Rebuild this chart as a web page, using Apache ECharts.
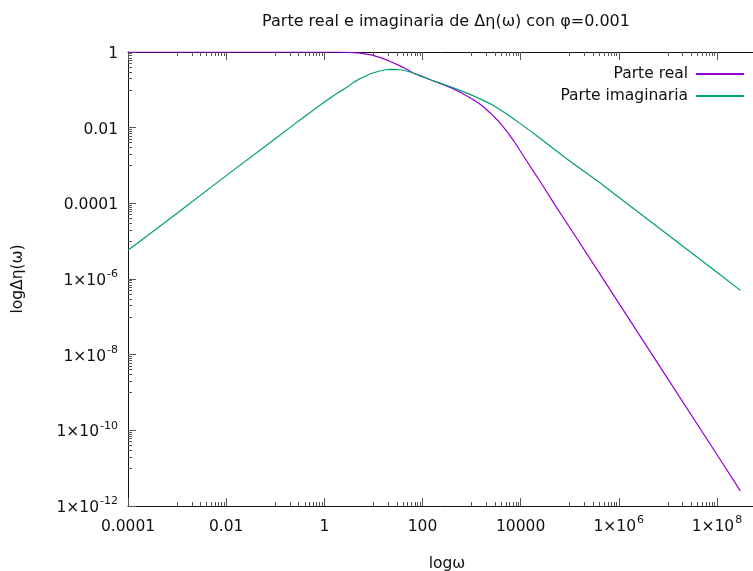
<!DOCTYPE html>
<html>
<head>
<meta charset="utf-8">
<script src="https://cdn.jsdelivr.net/npm/echarts@6/dist/echarts.min.js"></script>
<style>html,body{margin:0;padding:0;background:#fff}#c{width:753px;height:571px}</style>
</head>
<body>
<div id="c"></div>
<script>
// ---- data ----
const titleText = 'Parte real e imaginaria de Δη(ω) con φ=0.001';
const seriesNames = ['Parte real', 'Parte imaginaria'];
const omega = [1e-4, 1e-3, 1e-2, 0.1, 0.3, 1, 2, 3, 4, 5.4, 9, 14, 18, 22, 35, 50, 66, 90, 150, 235, 400, 600, 1100, 1600, 2500, 3550, 5400, 7400, 1e4, 1.6e4, 2.6e4, 5e4, 1e5, 4e5, 1e6, 1e7, 1e8, 3e8];
const realPart = [1, 1, 1, 1, 1, 1, 1, 0.98, 0.955, 0.93, 0.84, 0.71, 0.63, 0.56, 0.43, 0.34, 0.275, 0.237, 0.182, 0.146, 0.111, 0.085, 0.055, 0.039, 0.0234, 0.0148, 7.6e-3, 4.3e-3, 2.35e-3, 9.1e-4, 3.5e-4, 9.1e-5, 2.3e-5, 1.45e-6, 2.3e-7, 2.3e-9, 2.3e-11, 2.5e-12];
const imagPart = [5.75e-6, 5.5e-5, 5.4e-4, 5.1e-3, 0.0151, 0.048, 0.087, 0.12, 0.16, 0.20, 0.27, 0.32, 0.34, 0.347, 0.34, 0.31, 0.275, 0.234, 0.182, 0.148, 0.117, 0.095, 0.069, 0.055, 0.042, 0.0316, 0.0224, 0.0166, 0.0126, 8.1e-3, 5.0e-3, 2.6e-3, 1.32e-3, 3.6e-4, 1.45e-4, 1.48e-5, 1.5e-6, 5.0e-7];
const xTickValues = [1e-4, 1e-2, 1, 100, 1e4, 1e6, 1e8];
const xTickLabels = ['0.0001', '0.01', '1', '100', '10000', '1×10^6', '1×10^8'];
const yTickValues = [1e-12, 1e-10, 1e-8, 1e-6, 1e-4, 1e-2, 1];
const yTickLabels = ['1×10^-12', '1×10^-10', '1×10^-8', '1×10^-6', '0.0001', '0.01', '1'];
const xMinorDecades = [1e-3, 1e-1, 10, 1000, 1e5, 1e7];
const yMinorDecades = [1e-11, 1e-9, 1e-7, 1e-5, 1e-3, 1e-1];
const xLabelName = 'logω';
const yLabelName = 'logΔη(ω)';

// ---- build ----
function minorList(decades) {
  const out = [];
  decades.forEach(d => { for (let k = 1; k <= 9; k++) out.push(d * k); });
  return out;
}
const xMinor = minorList(xMinorDecades);
const yMinor = minorList(yMinorDecades);

function makeFormatter(vals, labels) {
  return function (v) {
    let idx = -1;
    for (let i = 0; i < vals.length; i++) {
      if (Math.abs(Math.log10(v) - Math.log10(vals[i])) < 1e-6) { idx = i; break; }
    }
    if (idx < 0) return '';
    const lab = labels[idx];
    if (lab.indexOf('^') >= 0) {
      const p = lab.split('^');
      return '{b|' + p[0] + '}{s|' + p[1] + '}';
    }
    return '{b|' + lab + '}';
  };
}
const FONT = 'DejaVu Sans';
const FS = 15.5;
const rich = {
  b: { fontSize: FS, fontFamily: FONT, color: '#111', lineHeight: 20, verticalAlign: 'bottom' },
  s: { fontSize: 11, fontFamily: FONT, color: '#111', lineHeight: 20, verticalAlign: 'top', padding: [0, 0, 0, 1] }
};
const axisLineStyle = { color: '#111', width: 1 };
const tickStyle = { color: '#555', width: 1 };

const X_MIN = 1e-4, X_MAX = 1e9, Y_MIN = 1e-12, Y_MAX = 1;

function xAxisDef(pos, major, withLabel, withLine, withName) {
  return {
    type: 'log', logBase: 10, min: X_MIN, max: X_MAX, position: pos,
    name: withName ? xLabelName : '', nameLocation: 'middle', nameGap: 50,
    nameTextStyle: { fontFamily: FONT, fontSize: FS, color: '#111' },
    axisLine: { show: withLine, lineStyle: axisLineStyle },
    axisTick: { show: true, inside: true, length: major ? 8 : 4, lineStyle: tickStyle, customValues: major ? xTickValues : xMinor },
    axisLabel: withLabel ? { show: true, margin: 9, customValues: xTickValues, formatter: makeFormatter(xTickValues, xTickLabels), rich: rich } : { show: false },
    splitLine: { show: false }, minorTick: { show: false }
  };
}
function yAxisDef(pos, major, withLabel, withLine, withName) {
  return {
    type: 'log', logBase: 10, min: Y_MIN, max: Y_MAX, position: pos,
    name: withName ? yLabelName : '', nameLocation: 'middle', nameGap: 102, nameRotate: 90,
    nameTextStyle: { fontFamily: FONT, fontSize: FS, color: '#111' },
    axisLine: { show: withLine, lineStyle: axisLineStyle },
    axisTick: { show: true, inside: true, length: major ? 8 : 4, lineStyle: tickStyle, customValues: major ? yTickValues : yMinor },
    axisLabel: withLabel ? { show: true, margin: 10, customValues: yTickValues, formatter: makeFormatter(yTickValues, yTickLabels), rich: rich } : { show: false },
    splitLine: { show: false }, minorTick: { show: false }
  };
}

const chart = echarts.init(document.getElementById('c'), null, { renderer: 'canvas' });
const colors = ['#9400d3', '#009e73'];
const legendText = { fontFamily: FONT, fontSize: FS, color: '#111', padding: [0, 3, 0, 0] };
chart.setOption({
  animation: false,
  backgroundColor: '#fff',
  title: {
    text: titleText, left: 441, top: 9, textAlign: 'center',
    textStyle: { fontFamily: FONT, fontSize: 16, fontWeight: 'normal', color: '#111' }
  },
  legend: [
    { data: [seriesNames[0]], orient: 'vertical', right: 9, top: 66, padding: 0, align: 'right', itemWidth: 48, itemHeight: 2, icon: 'rect', textStyle: legendText },
    { data: [seriesNames[1]], orient: 'vertical', right: 9, top: 88, padding: 0, align: 'right', itemWidth: 48, itemHeight: 2, icon: 'rect', textStyle: legendText }
  ],
  grid: { left: 128, right: -13, top: 52, bottom: 65, containLabel: false, outerBoundsMode: 'none' },
  xAxis: [
    xAxisDef('bottom', true, true, true, true),
    xAxisDef('bottom', false, false, false, false),
    xAxisDef('top', true, false, true, false),
    xAxisDef('top', false, false, false, false)
  ],
  yAxis: [
    yAxisDef('left', true, true, true, true),
    yAxisDef('left', false, false, false, false),
    yAxisDef('right', true, false, true, false),
    yAxisDef('right', false, false, false, false)
  ],
  series: [
    { name: seriesNames[0], type: 'line', xAxisIndex: 0, yAxisIndex: 0, showSymbol: false, symbol: 'none',
      smooth: false, color: colors[0], lineStyle: { width: 1.2, color: colors[0] },
      data: omega.map((w, i) => [w, realPart[i]]) },
    { name: seriesNames[1], type: 'line', xAxisIndex: 0, yAxisIndex: 0, showSymbol: false, symbol: 'none',
      smooth: false, color: colors[1], lineStyle: { width: 1.2, color: colors[1] },
      data: omega.map((w, i) => [w, imagPart[i]]) }
  ]
});
</script>
</body>
</html>
